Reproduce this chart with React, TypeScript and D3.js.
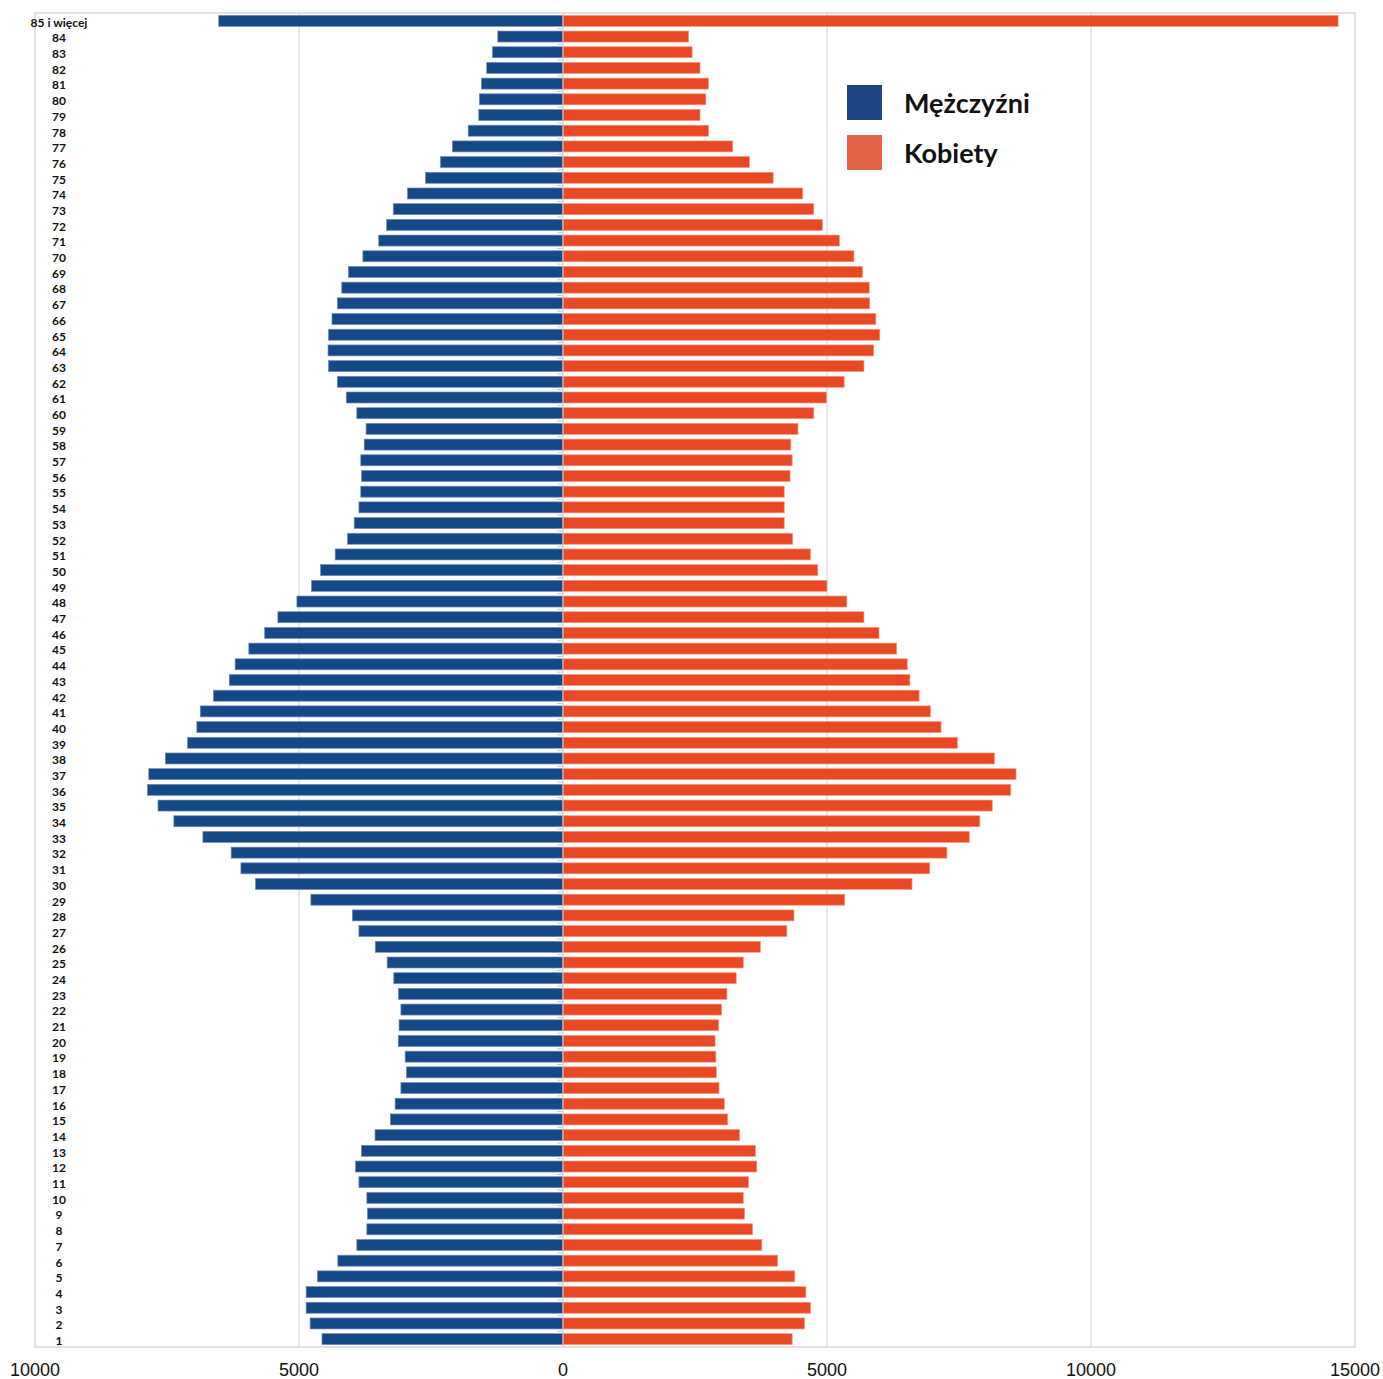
import React from "react";
import * as d3 from "d3";

const ageLabels = [
  "85 i więcej", "84", "83", "82", "81", "80", "79", "78", "77", "76",
  "75", "74", "73", "72", "71", "70", "69", "68", "67", "66",
  "65", "64", "63", "62", "61", "60", "59", "58", "57", "56",
  "55", "54", "53", "52", "51", "50", "49", "48", "47", "46",
  "45", "44", "43", "42", "41", "40", "39", "38", "37", "36",
  "35", "34", "33", "32", "31", "30", "29", "28", "27", "26",
  "25", "24", "23", "22", "21", "20", "19", "18", "17", "16",
  "15", "14", "13", "12", "11", "10", "9", "8", "7", "6",
  "5", "4", "3", "2", "1",
];

// Mężczyźni (men), same order as ageLabels
const males = [
  6520, 1235, 1335, 1445, 1545, 1585, 1595, 1795, 2095, 2320,
  2605, 2945, 3215, 3340, 3490, 3790, 4065, 4190, 4275, 4375,
  4440, 4450, 4440, 4275, 4105, 3905, 3730, 3765, 3830, 3815,
  3830, 3865, 3955, 4080, 4315, 4590, 4765, 5040, 5400, 5650,
  5950, 6210, 6320, 6620, 6870, 6935, 7110, 7530, 7845, 7870,
  7670, 7370, 6820, 6285, 6100, 5825, 4775, 3990, 3865, 3555,
  3330, 3205, 3115, 3070, 3105, 3120, 2990, 2965, 3070, 3180,
  3270, 3560, 3815, 3930, 3865, 3715, 3705, 3715, 3905, 4265,
  4650, 4865, 4865, 4790, 4565,
];

// Kobiety (women), same order as ageLabels
const females = [
  14680, 2380, 2445, 2595, 2755, 2705, 2595, 2755, 3215, 3530,
  3980, 4540, 4750, 4915, 5235, 5510, 5675, 5800, 5810, 5925,
  6000, 5885, 5700, 5325, 4990, 4750, 4450, 4315, 4340, 4300,
  4190, 4190, 4190, 4350, 4690, 4825, 5000, 5375, 5700, 5985,
  6320, 6520, 6570, 6745, 6960, 7160, 7470, 8170, 8580, 8480,
  8130, 7895, 7695, 7270, 6945, 6610, 5335, 4375, 4240, 3740,
  3415, 3280, 3105, 3005, 2945, 2880, 2895, 2905, 2955, 3055,
  3120, 3345, 3645, 3670, 3515, 3415, 3440, 3590, 3765, 4065,
  4390, 4600, 4690, 4575, 4340,
];

const xTicks = [-10000, -5000, 0, 5000, 10000, 15000];
const xTickLabels = ["10000", "5000", "0", "5000", "10000", "15000"];
const seriesNames = ["Mężczyźni", "Kobiety"];

const BLUE = "#154886";
const ORANGE = "#e84924";
const LEGEND_BLUE = "#1d4583";
const LEGEND_ORANGE = "#e26446";

export default function App() {
  const W = 1383;
  const H = 1379;
  const left = 35;
  const right = 1355;
  const top = 13;
  const bottom = 1347;

  const x = d3.scaleLinear().domain([-10000, 15000]).range([left, right]);
  const y = d3
    .scaleBand<string>()
    .domain(ageLabels)
    .range([top, bottom])
    .paddingInner(0.3)
    .paddingOuter(0.15);

  const x0 = x(0);
  const step = y.step();
  const bw = y.bandwidth();

  return (
    <svg
      width={W}
      height={H}
      style={{ position: "absolute", left: 0, top: 0, background: "#fff" }}
    >
      <rect x={0} y={0} width={W} height={H} fill="#fff" />
      {/* gridlines */}
      {xTicks
        .filter((t) => t !== 0 && t !== -10000 && t !== 15000)
        .map((t) => (
          <line
            key={"g" + t}
            x1={x(t)}
            x2={x(t)}
            y1={top}
            y2={bottom}
            stroke="#d9d9d9"
            strokeWidth={1.2}
          />
        ))}
      {/* plot border */}
      <rect
        x={left}
        y={top}
        width={right - left}
        height={bottom - top}
        fill="none"
        stroke="#d9d9d9"
        strokeWidth={1.5}
      />
      {/* bars */}
      {ageLabels.map((a, i) => (
        <g key={a}>
          <rect
            x={x(-males[i])}
            y={y(a)}
            width={x0 - x(-males[i])}
            height={bw}
            fill={BLUE}
            stroke="#6f8db8"
            strokeWidth={0.7}
          />
          <rect
            x={x0}
            y={y(a)}
            width={x(females[i]) - x0}
            height={bw}
            fill={ORANGE}
            stroke="#f39a7e"
            strokeWidth={0.7}
          />
        </g>
      ))}
      {/* category axis at zero */}
      <line x1={x0} x2={x0} y1={top} y2={bottom} stroke="#c8c8c8" strokeWidth={1} />
      {ageLabels.slice(1).map((a, i) => (
        <line
          key={"t" + a}
          x1={x0 - 6}
          x2={x0}
          y1={top + (i + 1) * step}
          y2={top + (i + 1) * step}
          stroke="#c8c8c8"
          strokeWidth={1}
        />
      ))}
      {/* category labels */}
      {ageLabels.map((a) => (
        <text
          key={"l" + a}
          x={59}
          y={(y(a) as number) + bw / 2 + 1.5}
          dy="0.36em"
          textAnchor="middle"
          fontFamily="Lato, 'Open Sans', sans-serif"
          fontWeight={700}
          fontSize={12}
          fill="#111"
        >
          {a}
        </text>
      ))}
      {/* x tick labels */}
      {xTicks.map((t, i) => (
        <text
          key={"x" + t}
          x={x(t)}
          y={1376}
          textAnchor="middle"
          fontFamily="'Liberation Sans', Arial, sans-serif"
          fontSize={18}
          fill="#111"
        >
          {xTickLabels[i]}
        </text>
      ))}
      {/* legend */}
      {seriesNames.map((n, i) => (
        <g key={n}>
          <rect
            x={847}
            y={85 + i * 50}
            width={35}
            height={35}
            fill={i === 0 ? LEGEND_BLUE : LEGEND_ORANGE}
          />
          <text
            x={904}
            y={113 + i * 50}
            fontFamily="Lato, 'Open Sans', sans-serif"
            fontWeight={700}
            fontSize={27}
            fill="#111"
          >
            {n}
          </text>
        </g>
      ))}
    </svg>
  );
}
